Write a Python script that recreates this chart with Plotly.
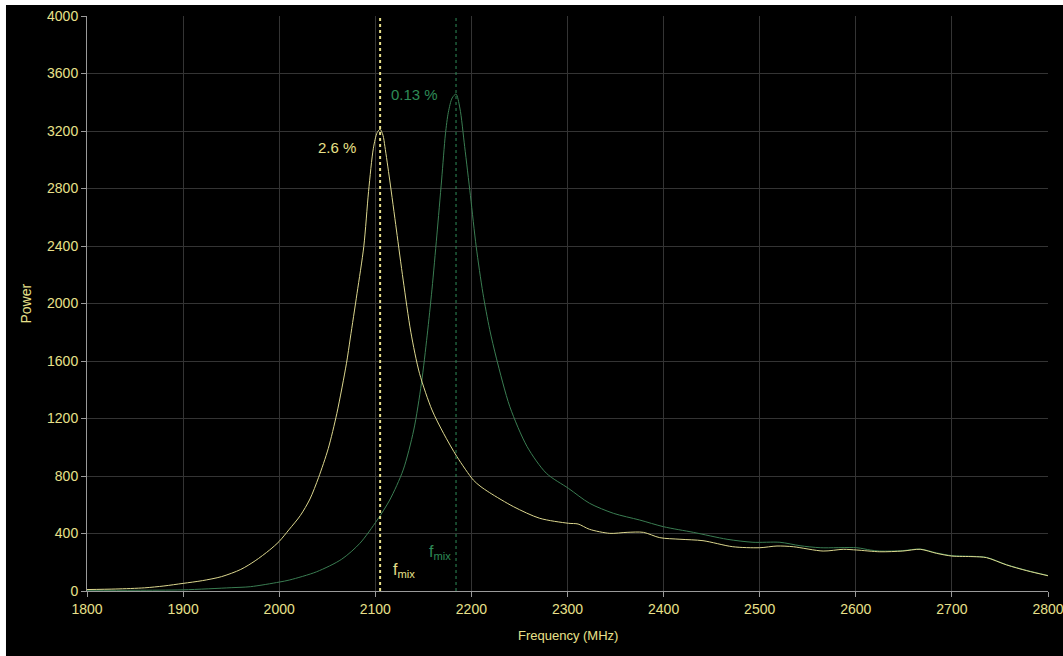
import plotly.graph_objects as go

# ---- data ----
freq_yellow = [1800, 1830, 1860, 1880, 1900, 1920, 1940, 1960, 1975, 1990, 2000, 2010, 2022, 2032,
               2041, 2051, 2060, 2070, 2074, 2081, 2088, 2093, 2098, 2102, 2105, 2108, 2110, 2115,
               2122, 2129, 2137, 2146, 2159, 2171, 2185, 2202, 2209, 2219, 2244, 2271, 2301, 2311,
               2323, 2344, 2362, 2379, 2396, 2417, 2441, 2472, 2500, 2518, 2535, 2566, 2587, 2601,
               2625, 2649, 2667, 2684, 2700, 2722, 2736, 2757, 2778, 2800]
power_yellow = [10, 14, 22, 35, 53, 72, 100, 150, 210, 285, 345, 425, 525, 640,
                790, 990, 1236, 1584, 1760, 2071, 2395, 2780, 3080, 3190, 3212, 3170, 3091, 2859,
                2511, 2163, 1800, 1514, 1259, 1097, 934, 772, 730, 684, 586, 506, 471, 466,
                429, 401, 408, 408, 371, 360, 350, 308, 301, 313, 308, 278, 290, 285,
                273, 278, 290, 262, 243, 239, 232, 181, 141, 106]

freq_green = [1800, 1850, 1900, 1950, 1970, 2000, 2011, 2039, 2065, 2084, 2102, 2115, 2129, 2140,
              2148, 2154, 2159, 2164, 2169, 2173, 2176, 2180, 2184, 2188, 2193, 2199, 2205, 2212,
              2219, 2226, 2240, 2258, 2278, 2301, 2323, 2348, 2375, 2400, 2431, 2466, 2493, 2521,
              2542, 2563, 2601, 2615, 2625, 2649, 2667, 2684, 2700, 2722, 2736, 2757, 2778, 2800]
power_green = [5, 5, 8, 23, 30, 62, 77, 134, 221, 332, 494, 633, 842, 1120,
               1445, 1780, 2100, 2470, 2859, 3180, 3330, 3430, 3457, 3360, 3091, 2750, 2395, 2071,
               1820, 1620, 1282, 1004, 819, 714, 610, 540, 494, 447, 408, 360, 339, 339,
               315, 301, 301, 285, 278, 281, 292, 265, 246, 241, 234, 183, 143, 108]

fmix_yellow = 2105
fmix_green = 2184

x_ticks = [1800, 1900, 2000, 2100, 2200, 2300, 2400, 2500, 2600, 2700, 2800]
y_ticks = [0, 400, 800, 1200, 1600, 2000, 2400, 2800, 3200, 3600, 4000]

YEL_LINE = "#DCD78E"
YEL_TEXT = "#E8E08A"
GRN_LINE = "#3A7D52"
GRN_TEXT = "#2E8B57"
FONT = "Liberation Sans, Arial, sans-serif"

fig = go.Figure()
fig.add_trace(go.Scatter(x=freq_green, y=power_green, mode="lines",
                         line=dict(color=GRN_LINE, width=1, shape="spline", smoothing=0.8),
                         showlegend=False, hoverinfo="skip"))
fig.add_trace(go.Scatter(x=freq_yellow, y=power_yellow, mode="lines",
                         line=dict(color=YEL_LINE, width=1, shape="spline", smoothing=0.8),
                         showlegend=False, hoverinfo="skip"))
# vertical fmix markers
fig.add_trace(go.Scatter(x=[fmix_yellow, fmix_yellow], y=[0, 4000], mode="lines",
                         line=dict(color=YEL_TEXT, width=2, dash="dot"),
                         showlegend=False, hoverinfo="skip"))
fig.add_trace(go.Scatter(x=[fmix_green, fmix_green], y=[0, 4000], mode="lines",
                         line=dict(color=GRN_TEXT, width=1, dash="dot"),
                         showlegend=False, hoverinfo="skip"))

# thin white page border on the left and top
fig.add_shape(type="rect", xref="paper", yref="paper",
              x0=-0.2, x1=-0.0843, y0=-0.3, y1=1.3,
              fillcolor="white", line=dict(width=0), layer="below")
fig.add_shape(type="rect", xref="paper", yref="paper",
              x0=-0.2, x1=1.2, y0=1.019, y1=1.3,
              fillcolor="white", line=dict(width=0), layer="below")

fig.add_annotation(x=2060, y=3082, text="2.6 %", showarrow=False,
                   font=dict(color=YEL_TEXT, size=15, family=FONT))
fig.add_annotation(x=2141, y=3457, text="0.13 %", showarrow=False,
                   font=dict(color=GRN_TEXT, size=15, family=FONT))
fig.add_annotation(x=2130, y=146, text="f<sub>mix</sub>", showarrow=False,
                   font=dict(color=YEL_TEXT, size=16, family=FONT))
fig.add_annotation(x=2167, y=271, text="f<sub>mix</sub>", showarrow=False,
                   font=dict(color=GRN_TEXT, size=16, family=FONT))
fig.add_annotation(xref="paper", yref="paper", x=-0.0645, y=0.5, text="Power",
                   textangle=-90, showarrow=False, xanchor="center", yanchor="middle",
                   font=dict(color=YEL_TEXT, size=14, family=FONT))
fig.add_annotation(xref="paper", yref="paper", x=0.5, y=-0.078, text="Frequency (MHz)",
                   showarrow=False, xanchor="center", yanchor="middle",
                   font=dict(color=YEL_TEXT, size=13, family=FONT))

fig.update_layout(
    width=1063, height=656,
    margin=dict(l=87, r=15, t=16, b=65, autoexpand=False),
    paper_bgcolor="black", plot_bgcolor="black",
    font=dict(family=FONT, color=YEL_TEXT, size=14),
)
fig.update_xaxes(range=[1800, 2800], tickvals=x_ticks, ticktext=[str(v) for v in x_ticks],
                 showgrid=True, gridcolor="#343434", gridwidth=1, automargin=False,
                 ticklabeloverflow="allow",
                 showline=True, linecolor="#9a9a9a", linewidth=1,
                 ticks="outside", ticklen=5, tickcolor="#9a9a9a",
                 tickfont=dict(color=YEL_TEXT, size=14), zeroline=False)
fig.update_yaxes(range=[0, 4000], tickvals=y_ticks, ticktext=[str(v) for v in y_ticks],
                 showgrid=True, gridcolor="#343434", gridwidth=1, automargin=False,
                 ticklabeloverflow="allow",
                 showline=True, linecolor="#9a9a9a", linewidth=1,
                 ticks="outside", ticklen=5, tickcolor="#9a9a9a",
                 tickfont=dict(color=YEL_TEXT, size=14), zeroline=False)

fig.write_html("out.html", config={"displayModeBar": False},
               post_script=("document.body.style.margin='0px';"
                            "document.body.style.overflow='hidden';"
                            "document.body.style.background='black';"
                            "document.documentElement.style.background='black';"))
